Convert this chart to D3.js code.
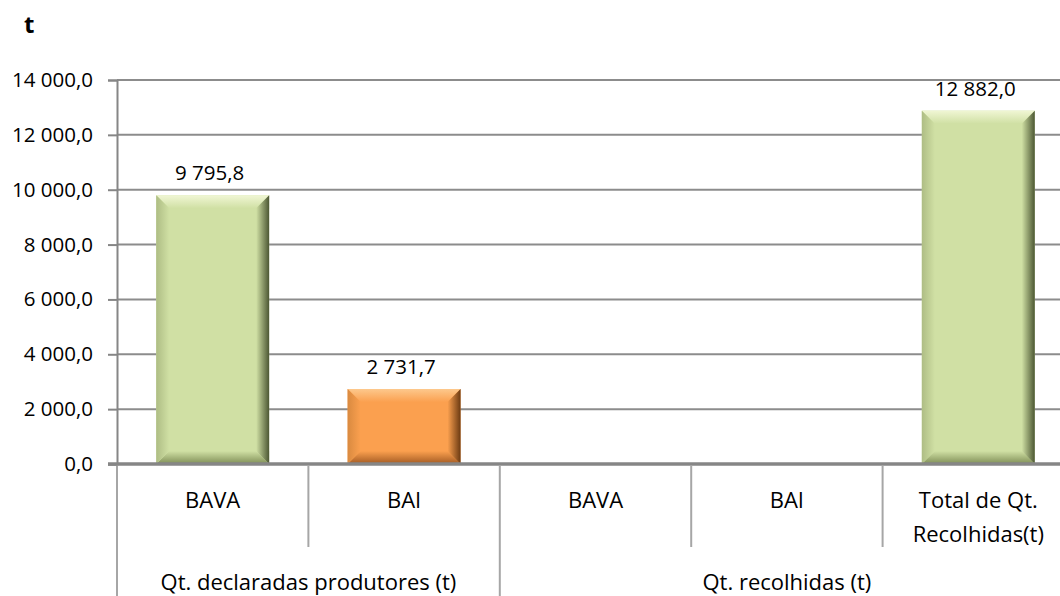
<!DOCTYPE html>
<html>
<head>
<meta charset="utf-8">
<script src="https://cdn.jsdelivr.net/npm/d3@7"></script>
<style>
  body { margin: 0; background: #fff; }
  svg { display: block; font-family: "Open Sans", "DejaVu Sans", sans-serif; }
</style>
</head>
<body>
<svg id="chart" width="1060" height="596"></svg>
<script>
// data
var categories = ['BAVA', 'BAI', 'BAVA', 'BAI', 'Total de Qt.|Recolhidas(t)'];
var groups = ['Qt. declaradas produtores (t)', 'Qt. declaradas produtores (t)',
              'Qt. recolhidas (t)', 'Qt. recolhidas (t)', 'Qt. recolhidas (t)'];
var values = [9795.8, 2731.7, null, null, 12882.0];
var barKind = ['green', 'orange', null, null, 'green'];
var yTicks = [0, 2000, 4000, 6000, 8000, 10000, 12000, 14000];

var palette = {
  green:  { face: '#d0e0a4', top: '#f0f6d4', left: '#aebd84', right: '#4c5733', bottom: '#7f8e56' },
  orange: { face: '#fba04f', top: '#fdc88c', left: '#d98a40', right: '#6b3a12', bottom: '#a25a22' }
};

var margin = { left: 117, top: 80, bottom: 464, right: 1074 };
var tickFont = '20.5px';
var labelFont = '22px';

document.addEventListener('DOMContentLoaded', function() {
  var svg = d3.select('#chart');
  var loc = d3.formatLocale({ decimal: ',', thousands: ' ', grouping: [3], currency: ['', ''] });
  var fmt = loc.format(',.1f');

  var x = d3.scaleBand()
            .domain(d3.range(categories.length))
            .range([margin.left, margin.right])
            .paddingInner(0.41)
            .paddingOuter(0.205);
  var step = x.step();
  var y = d3.scaleLinear()
            .domain([0, 14000])
            .range([margin.bottom, margin.top]);

  // gradients for the bevel edges
  var defs = svg.append('defs');
  Object.keys(palette).forEach(function(k) {
    var p = palette[k];
    var sides = [
      ['top', 0, 0, 0, 1, p.top, p.face],
      ['left', 0, 0, 1, 0, p.left, p.face],
      ['right', 1, 0, 0, 0, p.right, p.face],
      ['bottom', 0, 1, 0, 0, p.bottom, p.face]
    ];
    sides.forEach(function(s) {
      var g = defs.append('linearGradient').attr('id', k + '-' + s[0])
          .attr('x1', s[1]).attr('y1', s[2]).attr('x2', s[3]).attr('y2', s[4]);
      g.append('stop').attr('offset', 0).attr('stop-color', s[5]);
      g.append('stop').attr('offset', 1).attr('stop-color', s[6]);
    });
  });

  // gridlines
  svg.append('g').selectAll('line')
     .data(yTicks.filter(function(d) { return d > 0; }))
     .enter().append('line')
     .attr('x1', margin.left).attr('x2', margin.right)
     .attr('y1', function(d) { return y(d); }).attr('y2', function(d) { return y(d); })
     .style('stroke', '#8c8c8c').style('stroke-width', 2);

  // y axis
  var yAxis = svg.append('g')
     .attr('transform', 'translate(' + margin.left + ',0)')
     .call(d3.axisLeft(y).tickValues(yTicks).tickFormat(fmt).tickSize(9).tickPadding(15));
  yAxis.select('.domain').style('stroke', '#868686').style('stroke-width', 2);
  yAxis.selectAll('.tick line').style('stroke', '#868686').style('stroke-width', 2);
  yAxis.selectAll('.tick text').style('font-size', tickFont).style('fill', '#000')
       .style('font-family', '"Open Sans", sans-serif');

  // bars with bevel
  var bev = 13;
  values.forEach(function(v, i) {
    if (v == null) return;
    var p = palette[barKind[i]];
    var x0 = x(i), x1 = x(i) + x.bandwidth();
    var y0 = y(v), y1 = y(0);
    var b = Math.min(bev, (y1 - y0) / 2);
    var g = svg.append('g');
    g.append('rect').attr('x', x0).attr('y', y0).attr('width', x1 - x0).attr('height', y1 - y0)
     .style('fill', p.face);
    var polys = [
      ['top', [[x0, y0], [x1, y0], [x1 - b, y0 + b], [x0 + b, y0 + b]]],
      ['bottom', [[x0, y1], [x1, y1], [x1 - b, y1 - b], [x0 + b, y1 - b]]],
      ['left', [[x0, y0], [x0 + b, y0 + b], [x0 + b, y1 - b], [x0, y1]]],
      ['right', [[x1, y0], [x1 - b, y0 + b], [x1 - b, y1 - b], [x1, y1]]]
    ];
    polys.forEach(function(pp) {
      g.append('polygon')
       .attr('points', pp[1].map(function(q) { return q.join(','); }).join(' '))
       .style('fill', 'url(#' + barKind[i] + '-' + pp[0] + ')');
    });
    svg.append('text')
       .attr('x', x0 + x.bandwidth() / 2 - 3)
       .attr('y', y0 - 15)
       .attr('text-anchor', 'middle')
       .style('font-size', tickFont)
       .text(fmt(v));
  });

  // x axis line
  svg.append('line')
     .attr('x1', margin.left - 9).attr('x2', margin.right)
     .attr('y1', y(0)).attr('y2', y(0))
     .style('stroke', '#868686').style('stroke-width', 3.5);

  // category separators: inner short, group boundaries long
  var sepX = d3.range(categories.length + 1).map(function(i) { return margin.left + i * step; });
  sepX.forEach(function(sx, i) {
    var isGroup = i === 0 || i === categories.length || groups[i] !== groups[i - 1];
    svg.append('line')
       .attr('x1', sx).attr('x2', sx)
       .attr('y1', y(0) + 2).attr('y2', isGroup ? 596 : 547)
       .style('stroke', '#a6a6a6').style('stroke-width', 2);
  });

  // category labels
  categories.forEach(function(c, i) {
    var lines = c.split('|');
    var t = svg.append('text')
       .attr('text-anchor', 'middle')
       .style('font-size', labelFont);
    lines.forEach(function(l, j) {
      t.append('tspan')
       .attr('x', x(i) + x.bandwidth() / 2)
       .attr('y', 508 + j * 34)
       .text(l);
    });
  });

  // group labels
  var groupNames = Array.from(new Set(groups));
  groupNames.forEach(function(gname) {
    var idx = d3.range(groups.length).filter(function(i) { return groups[i] === gname; });
    var gx0 = margin.left + d3.min(idx) * step;
    var gx1 = margin.left + (d3.max(idx) + 1) * step;
    svg.append('text')
       .attr('x', (gx0 + gx1) / 2)
       .attr('y', 590)
       .attr('text-anchor', 'middle')
       .style('font-size', labelFont)
       .text(gname);
  });

  // unit title
  svg.append('text')
     .attr('x', 24).attr('y', 33)
     .style('font-size', '24px')
     .style('font-weight', 'bold')
     .text('t');
});
</script>
</body>
</html>
